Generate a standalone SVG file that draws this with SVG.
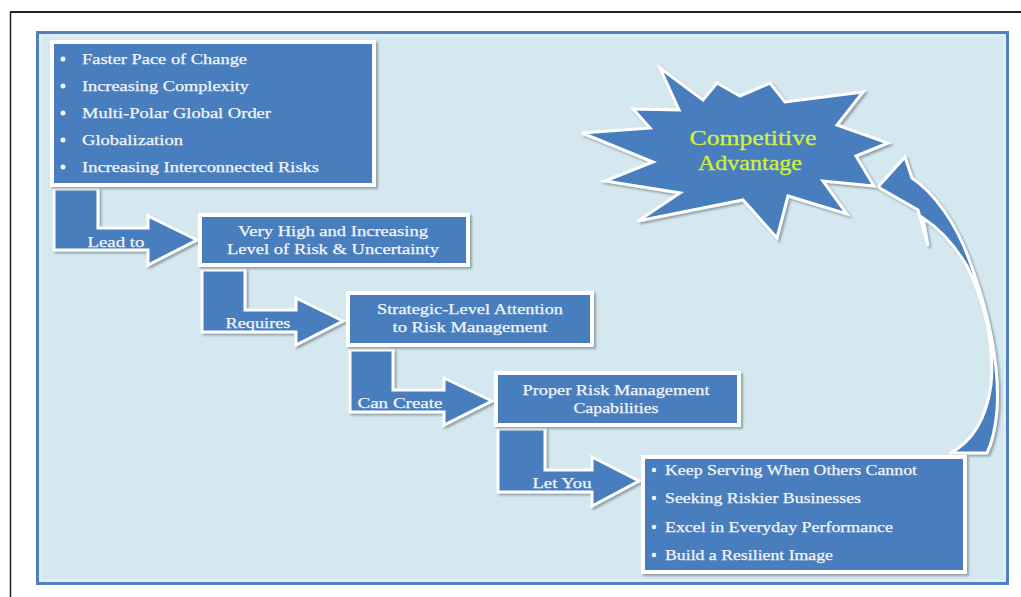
<svg xmlns="http://www.w3.org/2000/svg" width="1021" height="597" viewBox="0 0 1021 597">
  <defs>
    <filter id="shadow" x="-10%" y="-10%" width="120%" height="130%">
      <feDropShadow dx="2" dy="2" stdDeviation="1.2" flood-color="#5a6670" flood-opacity="0.55"/>
    </filter>
    <style>
      .box { fill: #4a7ebe; stroke: #ffffff; stroke-width: 4; filter: url(#shadow); }
      .bend { fill: #4a7ebe; stroke: #ffffff; stroke-width: 3; stroke-linejoin: miter; filter: url(#shadow); }
      .txt { font-family: "Liberation Serif", "Times New Roman", serif; font-size: 15.5px; fill: #f3f5f9; stroke: #f3f5f9; stroke-width: 0.25; }
      .mid { text-anchor: middle; }
      .star-txt { font-family: "Liberation Serif", "Times New Roman", serif; font-size: 21px; fill: #d2f03c; stroke: #d2f03c; stroke-width: 0.3; text-anchor: middle; }
      .dot { fill: #f3f5f9; }
    </style>
  </defs>

  <!-- page frame -->
  <rect x="0" y="0" width="1021" height="597" fill="#ffffff"/>
  <line x1="10" y1="12" x2="1021" y2="12" stroke="#222222" stroke-width="2"/>
  <line x1="10.5" y1="12" x2="10.5" y2="597" stroke="#222222" stroke-width="1.5"/>

  <!-- background panel -->
  <rect x="37.5" y="32.5" width="970" height="551" fill="#d5e8ef" stroke="#4f80bf" stroke-width="3"/>
  <rect x="40.5" y="35.5" width="964" height="545" fill="none" stroke="#e2eff5" stroke-width="2"/>

  <!-- bent connectors -->
  <g id="connectors">
    <g id="lead-to">
      <polygon class="bend" points="54,189 98,189 98,228 148,228 148,216 197,240 148,265 148,250 54,250"/>
      <text class="txt mid" x="116" y="247" textLength="57" lengthAdjust="spacingAndGlyphs">Lead to</text>
    </g>
    <g id="requires">
      <polygon class="bend" points="202,270 245,270 245,310 296,310 296,298 343,321 296,345 296,332 202,332"/>
      <text class="txt mid" x="258" y="328" textLength="65" lengthAdjust="spacingAndGlyphs">Requires</text>
    </g>
    <g id="can-create">
      <polygon class="bend" points="350,350 393,350 393,390 444,390 444,378 492,401 444,425 444,412 350,412"/>
      <text class="txt mid" x="400" y="408" textLength="85" lengthAdjust="spacingAndGlyphs">Can Create</text>
    </g>
    <g id="let-you">
      <polygon class="bend" points="498,429 545,429 545,470 592,470 592,457 639,481 592,506 592,492 498,492"/>
      <text class="txt mid" x="562" y="488" textLength="59" lengthAdjust="spacingAndGlyphs">Let You</text>
    </g>
    <!-- curved return arrow up to the starburst -->
    <path id="return-arrow" class="bend" d="M 878,187 L 905,157 L 912,178 C 933,192 956,222 970,262 C 988,310 1000,365 997,410 C 995,432 991,445 987,453 L 950,453 C 972,442 986,420 991,385 C 995,345 984,300 967,266 C 955,246 940,229 923,218 L 928,246 L 918,210 Z"/>
  </g>

  <!-- drivers -->
  <g id="drivers">
    <rect class="box" x="52" y="42" width="322" height="143"/>
    <circle class="dot" cx="63" cy="59" r="2.5"/>
    <circle class="dot" cx="63" cy="86" r="2.5"/>
    <circle class="dot" cx="63" cy="113" r="2.5"/>
    <circle class="dot" cx="63" cy="140" r="2.5"/>
    <circle class="dot" cx="63" cy="167" r="2.5"/>
    <text class="txt" x="82" y="64" textLength="165" lengthAdjust="spacingAndGlyphs">Faster Pace of Change</text>
    <text class="txt" x="82" y="91" textLength="167" lengthAdjust="spacingAndGlyphs">Increasing Complexity</text>
    <text class="txt" x="82" y="118" textLength="189" lengthAdjust="spacingAndGlyphs">Multi-Polar Global Order</text>
    <text class="txt" x="82" y="145" textLength="101" lengthAdjust="spacingAndGlyphs">Globalization</text>
    <text class="txt" x="82" y="172" textLength="237" lengthAdjust="spacingAndGlyphs">Increasing Interconnected Risks</text>
  </g>

  <g id="risk-level">
    <rect class="box" x="200" y="215" width="268" height="50"/>
    <text class="txt mid" x="333" y="236" textLength="190" lengthAdjust="spacingAndGlyphs">Very High and Increasing</text>
    <text class="txt mid" x="333" y="254" textLength="212" lengthAdjust="spacingAndGlyphs">Level of Risk &amp; Uncertainty</text>
  </g>

  <g id="strategic-attention">
    <rect class="box" x="348" y="293" width="244" height="52"/>
    <text class="txt mid" x="470" y="314" textLength="186" lengthAdjust="spacingAndGlyphs">Strategic-Level Attention</text>
    <text class="txt mid" x="470" y="332" textLength="155" lengthAdjust="spacingAndGlyphs">to Risk Management</text>
  </g>

  <g id="capabilities">
    <rect class="box" x="496" y="373" width="243" height="52"/>
    <text class="txt mid" x="616" y="395" textLength="187" lengthAdjust="spacingAndGlyphs">Proper Risk Management</text>
    <text class="txt mid" x="616" y="413" textLength="85" lengthAdjust="spacingAndGlyphs">Capabilities</text>
  </g>

  <g id="benefits">
    <rect class="box" x="643" y="457" width="322" height="115"/>
    <circle class="dot" cx="654" cy="470" r="2.3"/>
    <circle class="dot" cx="654" cy="498" r="2.3"/>
    <circle class="dot" cx="654" cy="527" r="2.3"/>
    <circle class="dot" cx="654" cy="555" r="2.3"/>
    <text class="txt" x="665" y="475" textLength="252" lengthAdjust="spacingAndGlyphs">Keep Serving When Others Cannot</text>
    <text class="txt" x="665" y="503" textLength="196" lengthAdjust="spacingAndGlyphs">Seeking Riskier Businesses</text>
    <text class="txt" x="665" y="532" textLength="228" lengthAdjust="spacingAndGlyphs">Excel in Everyday Performance</text>
    <text class="txt" x="665" y="560" textLength="168" lengthAdjust="spacingAndGlyphs">Build a Resilient Image</text>
  </g>

  <g id="competitive-advantage">
    <polygon class="bend" points="582,133 650,128 633,109 679,110 660,68 703,100 717,83 740,96 770,83 785,102 863,92 837,125 888,143 856,156 874,186 823,181 847,214 788,196 777,238 743,200 638,221 680,193 605,181 653,162"/>
    <text class="star-txt" x="753" y="145" textLength="127" lengthAdjust="spacingAndGlyphs">Competitive</text>
    <text class="star-txt" x="750" y="170" textLength="104" lengthAdjust="spacingAndGlyphs">Advantage</text>
  </g>
</svg>
